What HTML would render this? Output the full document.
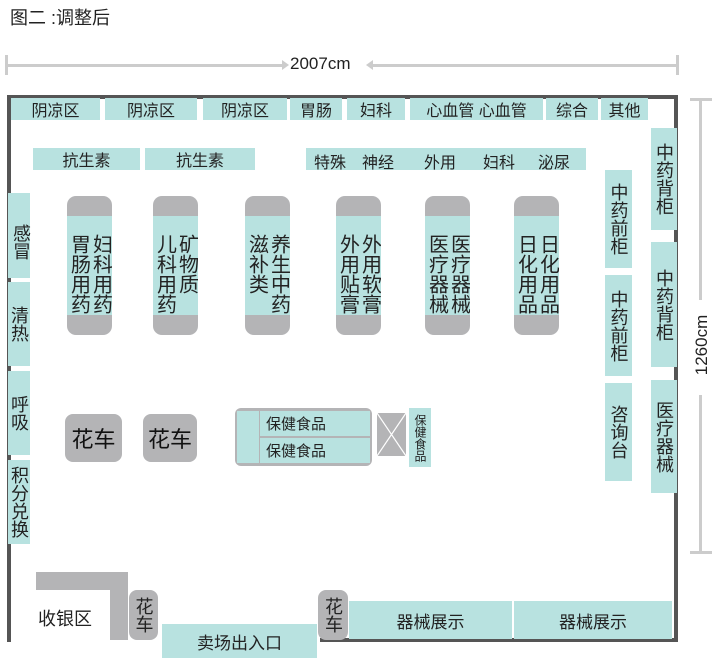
<!DOCTYPE html>
<html><head><meta charset="utf-8"><style>
body{margin:0;width:716px;height:660px;background:#fff;position:relative;overflow:hidden;font-family:"Liberation Sans","Noto Sans CJK SC",sans-serif;color:#222}
div{position:absolute;box-sizing:border-box}
.t{background:#b8e2e0;display:flex;align-items:center;justify-content:center;font-size:16px;white-space:nowrap}
.v{writing-mode:vertical-rl;line-height:1.0;letter-spacing:0}
.g{background:#b4b4b6}
.sh{border-radius:9px;overflow:hidden;background:#b4b4b6}
.sh .in{left:0;right:0;top:20px;bottom:20px;background:#b8e2e0;display:flex;justify-content:center;padding-top:18px;font-size:20px;line-height:20px}
.sh .in span{writing-mode:vertical-rl;margin:0 1px}
</style></head><body>
<div style="left:10px;top:4px;font-size:18px;color:#222">图二 :调整后</div>
<!-- horizontal dim -->
<div style="left:6px;top:64px;width:280px;height:3px;background:#ccc"></div>
<div style="left:372px;top:64px;width:305px;height:3px;background:#ccc"></div>
<div style="left:5px;top:55px;width:3px;height:20px;background:#ccc"></div>
<div style="left:676px;top:55px;width:3px;height:20px;background:#ccc"></div>
<div style="left:282px;top:60px;width:0;height:0;border-left:7px solid #ccc;border-top:5px solid transparent;border-bottom:5px solid transparent"></div>
<div style="left:366px;top:60px;width:0;height:0;border-right:7px solid #ccc;border-top:5px solid transparent;border-bottom:5px solid transparent"></div>
<div style="left:290px;top:54px;font-size:17px">2007cm</div>
<!-- vertical dim -->
<div style="left:699px;top:100px;width:3px;height:200px;background:#ccc"></div>
<div style="left:699px;top:395px;width:3px;height:158px;background:#ccc"></div>
<div style="left:690px;top:98px;width:22px;height:3px;background:#ccc"></div>
<div style="left:690px;top:551px;width:22px;height:3px;background:#ccc"></div>
<div style="left:679px;top:290px;width:46px;height:110px;display:flex;align-items:center;justify-content:center"><span style="transform:rotate(-90deg);font-size:17px;white-space:nowrap">1260cm</span></div>
<!-- room -->
<div style="left:7px;top:95px;width:671px;height:547px;border:4px solid #555"></div>
<div style="left:11px;top:575px;width:150px;height:70px;background:#fff"></div>
<div style="left:160px;top:636px;width:160px;height:8px;background:#fff"></div>
<!-- top row -->
<div class="t" style="left:11px;top:98px;width:89px;height:22px">阴凉区</div>
<div class="t" style="left:105px;top:98px;width:92px;height:22px">阴凉区</div>
<div class="t" style="left:203px;top:98px;width:84px;height:22px">阴凉区</div>
<div class="t" style="left:290px;top:98px;width:52px;height:22px">胃肠</div>
<div class="t" style="left:347px;top:98px;width:58px;height:22px">妇科</div>
<div class="t" style="left:410px;top:98px;width:133px;height:22px">心血管 心血管</div>
<div class="t" style="left:546px;top:98px;width:52px;height:22px">综合</div>
<div class="t" style="left:601px;top:98px;width:47px;height:22px">其他</div>
<!-- second row -->
<div class="t" style="left:33px;top:148px;width:107px;height:22px">抗生素</div>
<div class="t" style="left:145px;top:148px;width:110px;height:22px">抗生素</div>
<div class="t" style="left:306px;top:148px;width:280px;height:22px"></div>
<div style="left:314px;top:149px;font-size:16px">特殊</div>
<div style="left:362px;top:149px;font-size:16px">神经</div>
<div style="left:424px;top:149px;font-size:16px">外用</div>
<div style="left:483px;top:149px;font-size:16px">妇科</div>
<div style="left:538px;top:149px;font-size:16px">泌尿</div>
<!-- left column -->
<div class="t v" style="left:8px;top:193px;width:22px;height:85px;align-items:flex-start;padding-top:12px;font-size:18px">感冒</div>
<div class="t v" style="left:8px;top:282px;width:22px;height:84px;font-size:18px">清热</div>
<div class="t v" style="left:8px;top:371px;width:22px;height:84px;font-size:18px">呼吸</div>
<div class="t v" style="left:8px;top:460px;width:22px;height:84px;font-size:18px">积分兑换</div>
<!-- shelves -->
<div class="sh" style="left:67px;top:196px;width:45px;height:139px"><div class="in"><span>胃肠用药</span><span>妇科用药</span></div></div>
<div class="sh" style="left:153px;top:196px;width:45px;height:139px"><div class="in"><span>儿科用药</span><span>矿物质</span></div></div>
<div class="sh" style="left:245px;top:196px;width:45px;height:139px"><div class="in"><span>滋补类</span><span>养生中药</span></div></div>
<div class="sh" style="left:336px;top:196px;width:45px;height:139px"><div class="in"><span>外用贴膏</span><span>外用软膏</span></div></div>
<div class="sh" style="left:425px;top:196px;width:45px;height:139px"><div class="in"><span>医疗器械</span><span>医疗器械</span></div></div>
<div class="sh" style="left:514px;top:196px;width:45px;height:139px"><div class="in"><span>日化用品</span><span>日化用品</span></div></div>
<!-- right inner col -->
<div class="t v" style="left:605px;top:170px;width:27px;height:98px;font-size:18px">中药前柜</div>
<div class="t v" style="left:605px;top:275px;width:27px;height:101px;font-size:18px">中药前柜</div>
<div class="t v" style="left:605px;top:383px;width:27px;height:98px;font-size:18px">咨询台</div>
<!-- right outer col -->
<div class="t v" style="left:651px;top:128px;width:26px;height:102px;font-size:18px">中药背柜</div>
<div class="t v" style="left:651px;top:242px;width:26px;height:125px;font-size:18px">中药背柜</div>
<div class="t v" style="left:651px;top:380px;width:26px;height:113px;font-size:18px">医疗器械</div>
<!-- flower carts -->
<div class="g" style="left:65px;top:414px;width:57px;height:48px;border-radius:8px;display:flex;align-items:center;justify-content:center;font-size:22px;color:#111">花车</div>
<div class="g" style="left:143px;top:414px;width:54px;height:48px;border-radius:8px;display:flex;align-items:center;justify-content:center;font-size:22px;color:#111">花车</div>
<!-- health food -->
<div class="g" style="left:235px;top:408px;width:137px;height:58px;border-radius:6px"></div>
<div style="left:237px;top:411px;width:22px;height:52px;background:#b8e2e0"></div>
<div class="t" style="left:260px;top:411px;width:110px;height:25px;justify-content:flex-start;padding-left:6px;font-size:15px">保健食品</div>
<div class="t" style="left:260px;top:438px;width:110px;height:25px;justify-content:flex-start;padding-left:6px;font-size:15px">保健食品</div>
<svg style="position:absolute;left:377px;top:413px" width="29" height="43"><rect width="29" height="43" fill="#b4b4b6"/><path d="M0 0L29 43M29 0L0 43" stroke="#fff" stroke-width="1.2"/></svg>
<div class="t v" style="left:409px;top:408px;width:22px;height:59px;font-size:12px">保健食品</div>
<!-- bottom -->
<div class="g" style="left:36px;top:572px;width:92px;height:18px"></div>
<div class="g" style="left:110px;top:572px;width:18px;height:68px"></div>
<div style="left:38px;top:605px;font-size:18px">收银区</div>
<div class="g v" style="left:129px;top:590px;width:29px;height:50px;border-radius:8px;display:flex;align-items:center;justify-content:center;font-size:18px">花车</div>
<div class="t" style="left:162px;top:624px;width:155px;height:34px;font-size:17px">卖场出入口</div>
<div class="g v" style="left:318px;top:590px;width:30px;height:50px;border-radius:8px;display:flex;align-items:center;justify-content:center;font-size:18px">花车</div>
<div class="t" style="left:349px;top:601px;width:163px;height:38px;font-size:17px">器械展示</div>
<div class="t" style="left:514px;top:601px;width:158px;height:38px;font-size:17px">器械展示</div>
</body></html>
